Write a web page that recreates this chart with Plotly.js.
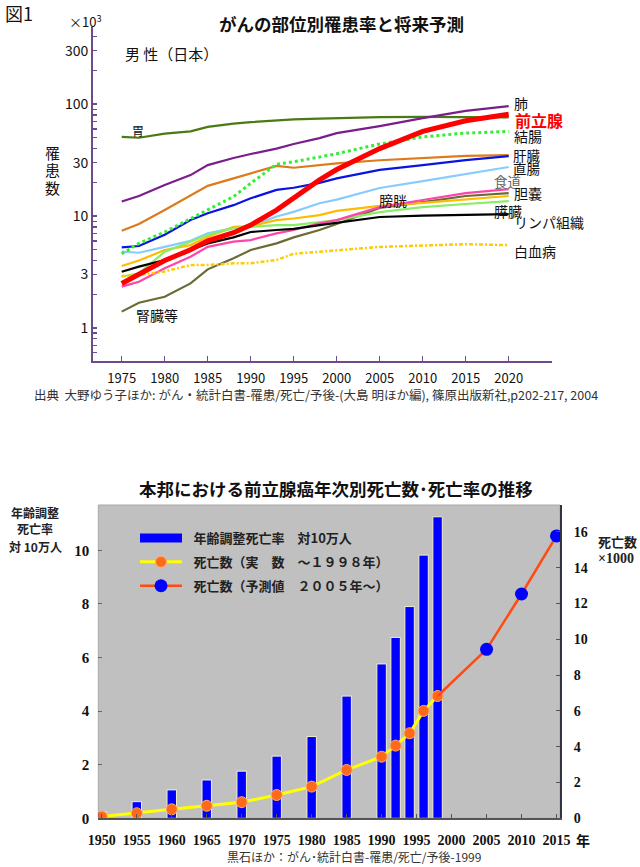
<!DOCTYPE html>
<html><head><meta charset="utf-8">
<script src="https://cdn.plot.ly/plotly-3.0.1.min.js"></script>
<style>html,body{margin:0;padding:0;background:#fff}#chart{width:640px;height:867px}</style>
</head><body><div id="chart"></div>
<script>
// ---------- Top chart data (x10^3 cases) ----------
const years = [1975,1977,1980,1983,1985,1988,1990,1993,1995,1998,2000,2005,2010,2015,2020];
const stomach     = [51,50,54.5,57,62.5,67,69,72,73,74,75,76.5,77,77,76];
const lung        = [13.5,15.1,18.9,23.2,28.5,33,35.8,40,44,49.7,55,63.6,75,86.8,96];
const prostate    = [2.5,3.0,4.0,5.0,6.0,7.1,8.3,11.3,14.5,21,26,40,57,71,81];
const colon       = [4.6,5.7,7.2,9.5,11.3,14.9,19.6,29,30.5,33.5,36,44,51,55,57];
const liver       = [7.4,8.5,11.3,15.4,18.6,21.7,24,28,27,28.5,29.5,31.5,33,34.5,35];
const rectum      = [5.25,5.4,6.8,9.2,10.6,12.5,14.4,17.1,17.9,19.8,21.7,25.8,28.5,31.6,34.3];
const esophagus   = [4.8,4.7,5.3,6.0,7.0,7.8,8.1,9.9,10.9,13,14,17.8,20.5,23.7,27.4];
const bladder     = [3.58,4.0,4.97,5.5,6.5,8.0,8.1,9.2,9.5,10.2,11.1,12.3,13.1,14.1,15.1];
const pancreas    = [3.18,3.53,4.05,4.97,5.7,6.45,7.2,7.5,7.67,8.3,8.7,9.8,10.1,10.3,10.4];
const lymph       = [2.87,3.08,4.8,5.9,6.76,7.8,8.0,8.3,8.3,8.9,9.2,10.85,12.0,12.8,13.6];
const gallbladder = [2.34,2.59,3.41,4.33,5.3,5.9,6.1,7.0,7.5,8.6,9.2,12.0,13.9,16.0,17.4];
const kidney      = [1.40,1.68,1.9,2.5,3.34,4.19,4.97,5.7,6.45,7.5,8.5,11.8,13.3,15.1,16.0];
const leukemia    = [2.91,2.97,3.2,3.65,3.65,3.78,3.78,4.05,4.6,4.8,4.97,5.3,5.45,5.6,5.5];
const topXTicks = [1975,1980,1985,1990,1995,2000,2005,2010,2015,2020];
const topYLabels = {1:'1',3:'3',10:'10',30:'30',100:'100',300:'300'};

// ---------- Bottom chart data ----------
const barYears    = [1950,1955,1960,1965,1970,1975,1980,1985,1990,1992,1994,1996,1998];
const ageAdjRate  = [0.25,0.62,1.06,1.43,1.76,2.32,3.05,4.56,5.76,6.75,7.9,9.82,11.25];
const deathsActual= [0.1,0.28,0.5,0.7,0.9,1.3,1.77,2.7,3.44,4.06,4.75,6.0,6.83];
const projYears   = [2005,2010,2015];
const deathsProj  = [9.44,12.53,15.77];
const botXTicks   = [1950,1955,1960,1965,1970,1975,1980,1985,1990,1995,2000,2005,2010,2015];
const leftTicks   = [0,2,4,6,8,10];
const rightTicks  = [0,2,4,6,8,10,12,14,16];
const legendNames = ['年齢調整死亡率　対10万人', '死亡数（実　数　～１９９８年）', '死亡数（予測値　２００５年～）'];

const W = 640, H = 867;
const px = x => x / W, py = y => 1 - y / H;
const JP = 'Noto Sans CJK JP, sans-serif';
const SERIF = 'Liberation Serif, Times New Roman, serif';
const AX = '#6a4c8c';
const SP = '\u2002';

// minor log ticks
const logTicks = [];
[0.1,1,10,100].forEach(d => { for (let k = 1; k <= 9; k++) { const v = +(k*d).toPrecision(3); if (v >= 0.6 && v <= 450) logTicks.push(v); } });
const logText = logTicks.map(v => topYLabels[v] || ' ');

function line(name, y, color, width, dash) {
  return {type:'scatter', mode:'lines', name, x: years, y, xaxis:'x', yaxis:'y',
    line:{color, width, dash: dash || 'solid'}, showlegend:false, hoverinfo:'name+y'};
}
const traces = [
  line('胃', stomach, '#4a7a12', 2.2),
  line('肺', lung, '#7a1f8a', 2.2),
  line('肝臓', liver, '#dd7a1a', 2.2),
  line('直腸', rectum, '#0a14e0', 2.2),
  line('食道', esophagus, '#88ccff', 2.2),
  line('腎臓等', kidney, '#6b6b35', 2.2),
  line('膀胱', bladder, '#ffbb00', 2.2),
  line('リンパ組織', lymph, '#88ee66', 2.2),
  line('胆嚢', gallbladder, '#ff44aa', 2.2),
  line('膵臓', pancreas, '#000000', 2.2),
  line('白血病', leukemia, '#ffcc00', 2.5, '4px,2px,2px,2px'),
  line('結腸', colon, '#33ee33', 3, 'dot'),
  line('前立腺', prostate, '#ff0000', 5),
];

// bottom
traces.push({type:'bar', name: legendNames[0], x: barYears, y: ageAdjRate, xaxis:'x2', yaxis:'y2',
  width: 1.35, marker:{color:'#0000ff', line:{color:'#f4f0c8', width:1}}, showlegend:false, legendgroup:'g1'});
// legend glyph for the bar series (wide blue band as in the reference legend); a single point draws no line
traces.push({type:'scatter', mode:'lines', name: SP + legendNames[0], x: barYears.slice(0,1), y: ageAdjRate.slice(0,1),
  xaxis:'x2', yaxis:'y2', line:{color:'#0000ff', width:9}, legendgroup:'g1', hoverinfo:'skip'});
traces.push({type:'scatter', mode:'lines+markers', name: SP + legendNames[1], x: barYears, y: deathsActual,
  xaxis:'x2', yaxis:'y3', line:{color:'#ffff00', width:3},
  marker:{color:'#ff6a1a', size:11, line:{color:'#ffaa66', width:1}}, legendgroup:'g2'});
traces.push({type:'scatter', mode:'lines', name:'connector', showlegend:false,
  x:[barYears[barYears.length-1], projYears[0]], y:[deathsActual[deathsActual.length-1], deathsProj[0]],
  xaxis:'x2', yaxis:'y3', line:{color:'#ff4a10', width:2.5}, legendgroup:'g3', hoverinfo:'skip'});
traces.push({type:'scatter', mode:'lines+markers', name: SP + legendNames[2], x: projYears, y: deathsProj,
  xaxis:'x2', yaxis:'y3', line:{color:'#ff4a10', width:2.5},
  marker:{color:'#0000ff', size:13}, legendgroup:'g3'});

function ann(text, x, y, o) {
  return Object.assign({text, x: px(x), y: py(y), xref:'paper', yref:'paper', showarrow:false,
    xanchor:'left', yanchor:'middle', font:{family: JP, size:14, color:'#111'}}, o || {});
}
const annotations = [
  ann('図1', 3, 13, {font:{family:JP, size:18, color:'#111'}}),
  ann('がんの部位別罹患率と将来予測', 341, 23, {xanchor:'center', font:{family:JP, size:17.5, weight:'bold', color:'#111'}}),
  ann('×10<sup>3</sup>', 67, 21, {font:{family:JP, size:13, color:'#111'}}),
  ann('男 性（日本）', 123, 54, {font:{family:JP, size:15, color:'#111'}}),
  ann('罹', 52, 152, {xanchor:'center', font:{family:JP, size:15, color:'#111'}}),
  ann('患', 52, 169, {xanchor:'center', font:{family:JP, size:15, color:'#111'}}),
  ann('数', 52, 187, {xanchor:'center', font:{family:JP, size:15, color:'#111'}}),
  ann('胃', 138, 131, {xanchor:'center', font:{family:JP, size:12, color:'#111'}}),
  ann('腎臓等', 134, 315),
  ann('肺', 512, 103),
  ann('前立腺', 513, 120, {font:{family:JP, size:16, weight:'bold', color:'#ff0000'}}),
  ann('結腸', 512, 136),
  ann('肝臓', 511, 155, {font:{family:JP, size:13.5, color:'#111'}}),
  ann('直腸', 511, 168, {font:{family:JP, size:13.5, color:'#111'}}),
  ann('食道', 492, 181, {font:{family:JP, size:13.5, color:'#666'}}),
  ann('胆嚢', 512, 193),
  ann('膀胱', 377, 200),
  ann('膵臓', 492, 211),
  ann('リンパ組織', 512, 222),
  ann('白血病', 512, 251),
  ann('出典  大野ゆう子ほか: がん・統計白書-罹患/死亡/予後-(大島 明ほか編), 篠原出版新社,p202-217, 2004', 316, 394,
      {xanchor:'center', font:{family:JP, size:12.5, color:'#333'}}),
  // bottom
  ann('本邦における前立腺癌年次別死亡数･死亡率の推移', 336, 488, {xanchor:'center', font:{family:JP, size:17.5, weight:'bold', color:'#111'}}),
  ann('年齢調整', 35, 512, {xanchor:'center', font:{family:JP, size:12, weight:'bold', color:'#222'}}),
  ann('死亡率', 35, 528, {xanchor:'center', font:{family:JP, size:12, weight:'bold', color:'#222'}}),
  ann('対 10万人', 35, 546, {xanchor:'center', font:{family:JP, size:12, weight:'bold', color:'#222'}}),
  ann('死亡数', 596, 541, {font:{family:JP, size:13, weight:'bold', color:'#222'}}),
  ann('×1000', 596, 558, {font:{family:SERIF, size:14, weight:'bold', color:'#222'}}),
  ann('年', 574, 840, {font:{family:JP, size:14, weight:'bold', color:'#111'}}),
  ann('黒石ほか：がん･統計白書-罹患/死亡/予後-1999', 354, 867, {xanchor:'center', yanchor:'bottom', font:{family:JP, size:12, color:'#333'}}),
];

const layout = {
  width: W, height: H, margin:{l:0,r:0,t:0,b:0},
  paper_bgcolor:'#fff', plot_bgcolor:'rgba(0,0,0,0)',
  font:{family: JP, color:'#111'},
  xaxis:{domain:[px(93), px(551.7)], range:[1971.66, 2025], anchor:'y', showline:true, linecolor:AX, linewidth:2,
    ticks:'inside', ticklen:5, tickcolor:AX, tickwidth:1.5, tickvals: topXTicks, showgrid:false, zeroline:false,
    tickfont:{family:JP, size:13, color:'#111'}, ticklabelstandoff:4},
  yaxis:{domain:[py(361), py(27)], type:'log', range:[Math.log10(0.507), Math.log10(488)], anchor:'x',
    showline:true, linecolor:AX, linewidth:2, ticks:'inside', ticklen:4, tickcolor:AX, tickwidth:1.3,
    tickvals: logTicks, ticktext: logText, showgrid:false, zeroline:false,
    tickfont:{family:JP, size:14, color:'#111'}},
  xaxis2:{domain:[px(98.3), px(560)], range:[1949.5, 2015.5], anchor:'y2', showline:true, linecolor:'#555', linewidth:1.5,
    ticks:'inside', ticklen:4, tickcolor:'#555', tickvals: botXTicks, showgrid:false, zeroline:false,
    tickfont:{family:SERIF, size:14, weight:'bold', color:'#111'}, ticklabelstandoff:8},
  yaxis2:{domain:[py(818.3), py(505)], range:[0, 11.69], anchor:'x2', showline:false, ticks:'inside', ticklen:4,
    tickcolor:'#666', tickvals: leftTicks, showgrid:false, zeroline:false,
    tickfont:{family:SERIF, size:15, weight:'bold', color:'#111'}, ticklabelstandoff:8},
  yaxis3:{overlaying:'y2', side:'right', anchor:'x2', range:[0, 17.5], showline:true, linecolor:'#334', linewidth:2,
    ticks:'inside', ticklen:4, tickcolor:'#555', tickvals: rightTicks, showgrid:false, zeroline:false,
    tickfont:{family:SERIF, size:14, weight:'bold', color:'#111'}, ticklabelstandoff:9},
  shapes:[{type:'rect', xref:'x2 domain', yref:'y2 domain', x0:0, x1:1, y0:0, y1:1, fillcolor:'#c0c0c0',
    line:{color:'#a8a8a8', width:1}, layer:'below'}],
  legend:{x: px(135), y: py(523), xanchor:'left', yanchor:'top', bgcolor:'rgba(0,0,0,0)', traceorder:'grouped',
    tracegroupgap:4, itemwidth:42, font:{family:JP, size:13, weight:'bold', color:'#222'}},
  bargap:0, annotations, showlegend:true
};
Plotly.newPlot('chart', traces, layout, {displayModeBar:false, staticPlot:true});
</script></body></html>
